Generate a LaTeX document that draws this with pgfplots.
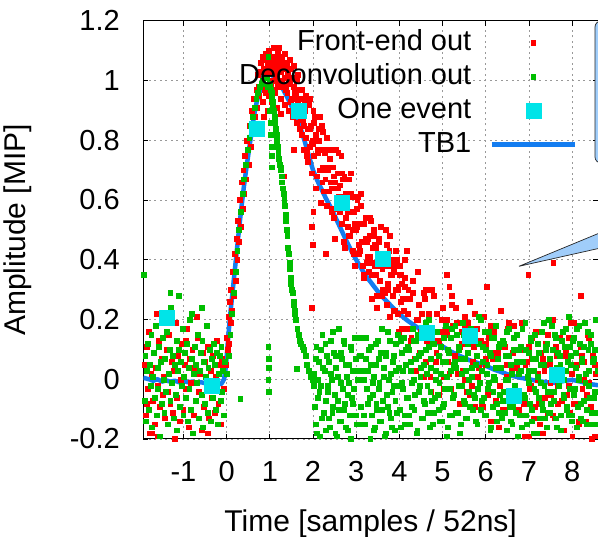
\documentclass[border=0pt]{standalone}
\usepackage{pgfplots}
\pgfplotsset{compat=1.18}
\usepackage{fontspec}
\setmainfont{Liberation Sans}
\definecolor{fered}{RGB}{255,0,0}
\definecolor{decgreen}{RGB}{0,190,0}
\definecolor{evcyan}{RGB}{0,228,232}
\definecolor{tbblue}{RGB}{20,125,240}
\definecolor{callout}{RGB}{160,205,250}
\pgfplotsset{
  layers/mylayers/.define layer set={
    axis background,axis grid,legendbg,axis ticks,axis lines,axis tick labels,axis descriptions,pre main,main,axis foreground
  }{},
  markleg/.style={legend image code/.code={\path[draw=none,fill=none] (0bp,-5bp) rectangle (83bp,5bp); \draw[##1] plot coordinates {(41.5bp,0bp)};}},
  lineleg/.style={legend image code/.code={\draw[##1] (0bp,0bp) -- (83bp,0bp);}},
}
\begin{document}
\begin{tikzpicture}
\begin{axis}[
  set layers=mylayers,
  name=ax,
  width=454.7bp, height=418.3bp, scale only axis,
  xmin=-1.93, xmax=8.6, ymin=-0.2, ymax=1.2,
  xtick={-1,0,1,2,3,4,5,6,7,8},
  ytick={-0.2,0,0.2,0.4,0.6,0.8,1,1.2},
  /pgf/number format/assume math mode=true,
  tick label style={font=\fontsize{29bp}{34bp}\selectfont},
  xticklabel style={anchor=base, yshift=-42.7bp},
  yticklabel style={anchor=east, inner sep=0pt, xshift=-23.3bp},
  major tick length=5bp,
  tick style={black, line width=0.8bp},
  axis line style={black, line width=1bp},
  grid=major,
  grid style={black!40, line width=0.8bp, dash pattern=on 2bp off 3.5bp},
  xlabel={Time [samples / 52ns]},
  ylabel={Amplitude [MIP]},
  every axis x label/.style={at={(axis description cs:0.5,-0.2216)}, anchor=base, font=\fontsize{30bp}{36bp}\selectfont},
  every axis y label/.style={at={(axis description cs:-0.258,0.5)}, anchor=base, rotate=90, font=\fontsize{30bp}{36bp}\selectfont},
  legend plot pos=right,
  legend cell align=right,
  legend style={at={(rel axis cs:1,1)}, anchor=north east, xshift=-21bp, yshift=-9.3bp,
    draw=none, fill=none, inner sep=0pt, row sep=9bp, column sep=18bp,
    font=\fontsize{29bp}{34bp}\selectfont,
    nodes={inner sep=0pt, text height=20bp, text depth=5bp}},
]
\begin{pgfonlayer}{legendbg}
\fill[white] (axis cs:-1.38,0.732) rectangle (axis cs:8.6,1.2);
\end{pgfonlayer}

% Front-end out
\addplot[only marks, mark=square*, mark size=2.45bp, color=fered, mark options={line width=0.1bp}, markleg]
coordinates {
(-1.90,0.05) (-1.88,-0.12) (-1.85,0.11) (-1.83,-0.03) (-1.80,0.16) (-1.78,-0.18) (-1.75,0.02) (-1.72,-0.07) (-1.70,0.09) (-1.67,-0.15)
(-1.64,0.04) (-1.61,-0.02) (-1.58,0.13) (-1.55,-0.09) (-1.52,0.07) (-1.49,-0.05) (-1.46,0.01) (-1.43,-0.13) (-1.40,0.10) (-1.37,-0.04)
(-1.34,0.15) (-1.31,-0.08) (-1.28,0.06) (-1.25,-0.11) (-1.22,0.03) (-1.19,0.19) (-1.16,-0.06) (-1.13,0.08) (-1.10,-0.14) (-1.07,0.00)
(-1.04,0.12) (-1.01,-0.10) (-0.98,0.05) (-0.95,-0.03) (-0.92,0.17) (-0.89,-0.16) (-0.86,0.07) (-0.83,-0.01) (-0.80,0.10) (-0.77,-0.12)
(-0.74,0.04) (-0.71,-0.07) (-0.68,0.14) (-0.65,-0.04) (-0.62,0.02) (-0.59,-0.17) (-0.56,0.09) (-0.53,-0.09) (-0.50,0.06) (-0.47,-0.02)
(-0.44,0.11) (-0.41,-0.13) (-0.38,0.03) (-0.35,-0.06) (-0.32,0.08) (-0.29,-0.11) (-0.26,0.01) (-0.23,0.13) (-0.20,-0.08) (-0.17,0.05)
(-0.14,-0.15) (-0.11,0.07) (-0.08,-0.03) (-1.74,-0.18) (-1.60,-0.19) (-1.20,-0.20) (-0.70,0.21) (-1.62,0.22) (-1.15,-0.17) (-0.45,-0.18)
(-1.86,-0.08) (-1.52,0.19) (-0.96,0.13)
(-0.02,0.05) (0.00,0.14) (0.02,0.10) (0.04,0.21) (0.05,0.12) (0.07,0.26) (0.09,0.19) (0.10,0.30) (0.12,0.23) (0.14,0.36)
(0.16,0.28) (0.18,0.42) (0.20,0.33) (0.22,0.47) (0.24,0.40) (0.26,0.53) (0.28,0.46) (0.30,0.60) (0.32,0.51) (0.34,0.66)
(0.36,0.57) (0.38,0.70) (0.40,0.62) (0.42,0.75) (0.45,0.67) (0.47,0.80) (0.50,0.72) (0.52,0.85) (0.55,0.78) (0.57,0.90)
(0.60,0.83) (0.62,0.94) (0.65,0.88) (0.68,0.97) (0.70,0.91)
(0.72,1.02) (0.75,0.95) (0.78,1.06) (0.80,0.99) (0.82,1.08) (0.84,0.93) (0.86,1.04) (0.88,0.97) (0.90,1.09) (0.92,1.01)
(0.94,1.06) (0.96,0.95) (0.98,1.10) (1.00,1.03) (1.02,0.98) (1.04,1.07) (1.06,1.00) (1.08,1.11) (1.10,1.04) (1.12,0.96)
(1.14,1.08) (1.16,1.02) (1.18,1.09) (1.20,0.99) (1.22,1.05) (1.24,0.94) (1.26,1.03) (1.28,1.08) (1.30,0.98) (1.32,1.04)
(1.34,0.92) (1.36,1.01) (1.38,1.06) (1.40,0.96) (1.42,1.02) (1.44,0.90) (1.46,0.99) (1.48,1.04) (1.50,0.94) (1.52,0.88)
(1.54,0.98) (1.56,1.01) (1.58,0.91) (1.60,0.95) (1.62,0.86) (1.64,0.93) (1.66,0.97) (1.68,0.84) (1.70,0.90) (1.72,0.94)
(1.74,0.82) (0.95,0.90) (1.05,0.93) (1.15,0.91) (1.25,0.89) (1.35,1.09) (1.45,1.07) (0.85,0.88) (1.10,1.11) (1.20,1.11)
(0.74,0.98) (0.79,1.03) (0.83,1.00) (0.87,1.07) (0.91,0.96) (0.97,1.04) (1.01,1.08) (1.07,0.97) (1.11,1.06) (1.17,0.98)
(1.21,1.07) (1.27,1.00) (1.31,1.06) (1.37,0.97) (1.41,1.04) (1.47,0.93) (1.51,1.01) (1.57,0.96) (1.61,1.00) (1.67,0.90)
(1.71,0.87) (1.73,0.97) (1.65,1.02) (1.55,1.05) (1.43,0.99) (1.33,1.01) (1.23,1.03) (1.13,1.01) (1.03,1.05) (0.93,1.03)
(1.54,0.77) (1.31,0.68) (1.97,0.51) (1.98,0.45) (1.97,0.24) (2.30,0.42) (2.50,0.47) (2.00,0.56)
(1.76,0.87) (1.78,0.77) (1.80,0.90) (1.82,0.81) (1.84,0.92) (1.86,0.75) (1.88,0.84) (1.90,0.92) (1.92,0.78) (1.94,0.85)
(1.96,0.69) (1.98,0.80) (2.00,0.90) (2.02,0.75) (2.05,0.82) (2.07,0.68) (2.10,0.77) (2.12,0.84) (2.15,0.70) (2.17,0.77)
(2.20,0.85) (2.22,0.71) (2.25,0.63) (2.27,0.77) (2.30,0.70) (2.32,0.81) (2.35,0.63) (2.37,0.71) (2.40,0.77) (2.42,0.64)
(2.45,0.71) (2.47,0.54) (2.50,0.66) (2.52,0.77) (2.55,0.59) (2.57,0.69) (2.60,0.61) (2.62,0.65) (2.65,0.75) (2.67,0.52)
(2.70,0.61) (2.72,0.68) (2.75,0.54) (2.77,0.62) (2.80,0.56) (2.82,0.67) (2.85,0.48) (2.87,0.56) (2.90,0.61) (2.92,0.50)
(2.95,0.56) (2.97,0.38) (3.00,0.51) (3.02,0.60) (3.05,0.45) (3.07,0.52) (3.10,0.62) (3.12,0.46) (3.15,0.38) (3.17,0.52)
(3.20,0.46) (3.22,0.54) (3.25,0.39) (3.27,0.47) (3.30,0.41) (3.32,0.54) (3.35,0.35) (3.37,0.44) (3.40,0.48) (3.42,0.38)
(3.45,0.44) (3.47,0.28) (3.50,0.39) (3.52,0.47) (3.55,0.33) (3.57,0.41) (3.60,0.37) (3.62,0.42) (3.65,0.29) (3.67,0.38)
(3.70,0.45) (3.72,0.32) (3.75,0.39) (3.77,0.21) (3.80,0.35) (3.82,0.40) (3.85,0.28) (3.87,0.36) (3.90,0.30) (3.92,0.38)
(3.95,0.22) (3.97,0.31) (4.00,0.35) (4.03,0.26) (4.06,0.32) (4.09,0.23) (4.12,0.34) (4.15,0.27) (4.18,0.17) (4.20,0.30)
(1.78,0.85) (1.83,0.95) (1.88,0.73) (1.93,0.84) (1.98,0.79) (2.03,0.88) (2.08,0.68) (2.13,0.80) (2.18,0.59) (2.23,0.83)
(2.28,0.67) (2.33,0.70) (2.38,0.74) (2.43,0.56) (2.48,0.68) (2.53,0.57) (2.58,0.76) (2.63,0.58) (2.68,0.67) (2.73,0.44)
(2.78,0.58) (2.83,0.48) (2.88,0.62) (2.93,0.42) (2.98,0.50) (3.03,0.61) (3.08,0.43) (3.13,0.52) (3.18,0.34) (3.23,0.46)
(3.28,0.36) (3.33,0.53) (3.38,0.39) (3.43,0.45) (3.48,0.24) (3.53,0.46) (3.58,0.28) (3.63,0.38) (3.68,0.50) (3.73,0.30)
(3.78,0.48) (3.83,0.35) (3.88,0.23) (3.93,0.40) (3.98,0.16) (4.03,0.35) (4.08,0.27) (4.13,0.40) (4.18,0.22)
(1.81,0.93) (1.86,0.76) (1.91,0.94) (1.96,0.79) (2.01,0.86) (2.06,0.64) (2.11,0.76) (2.16,0.88) (2.21,0.66) (2.26,0.76)
(2.31,0.58) (2.36,0.77) (2.41,0.66) (2.46,0.57) (2.51,0.77) (2.56,0.64) (2.61,0.56) (2.66,0.69) (2.71,0.46) (2.76,0.62)
(2.81,0.51) (2.86,0.69) (2.91,0.43) (2.96,0.52) (3.01,0.57) (3.06,0.42) (3.11,0.58) (3.16,0.35) (3.21,0.47) (3.26,0.41)
(3.31,0.48) (3.36,0.27) (3.41,0.50) (3.46,0.35) (3.51,0.38) (3.56,0.51) (3.61,0.30) (3.66,0.41) (3.71,0.25) (3.76,0.43)
(3.81,0.38) (3.86,0.23) (3.91,0.43) (3.96,0.30) (4.01,0.38) (4.06,0.17) (4.11,0.31) (4.16,0.43)
(4.23,0.27) (4.27,0.14) (4.31,0.33) (4.35,0.07) (4.39,0.20) (4.43,0.36) (4.47,0.09) (4.51,0.22) (4.55,0.01) (4.59,0.27)
(4.63,0.13) (4.67,0.22) (4.71,0.01) (4.75,0.30) (4.79,0.13) (4.83,0.06) (4.87,0.22) (4.91,-0.05) (4.95,0.16) (4.99,0.24)
(5.03,0.01) (5.07,0.16) (5.11,0.06) (5.15,0.31) (5.19,-0.03) (5.23,0.18) (5.27,0.08) (5.31,0.24) (5.35,0.02) (5.39,0.11)
(5.43,0.16) (5.47,0.03) (5.51,0.21) (5.55,-0.04) (5.59,0.09) (5.63,0.26) (5.67,-0.02) (5.71,0.11) (5.75,-0.09) (5.79,0.17)
(5.83,0.04) (5.87,0.12) (5.91,-0.08) (5.95,0.21) (5.99,0.05) (6.03,-0.03) (6.07,0.14) (6.11,-0.14) (6.15,0.07) (6.19,0.16)
(6.23,-0.07) (6.27,0.09) (6.31,-0.02) (6.35,0.23) (6.39,-0.10) (6.43,0.11) (6.47,0.01) (6.51,0.17) (6.55,-0.05) (6.59,0.04)
(6.63,0.09) (6.67,-0.04) (6.71,0.15) (6.75,-0.10) (6.79,0.03) (6.83,0.19) (6.87,-0.08) (6.91,0.05) (6.95,-0.15) (6.99,0.11)
(7.03,-0.02) (7.07,0.07) (7.11,-0.13) (7.15,0.16) (7.19,0.00) (7.23,-0.08) (7.27,0.09) (7.31,-0.18) (7.35,0.03) (7.39,0.12)
(7.43,-0.11) (7.47,0.05) (7.51,-0.05) (7.55,0.20) (7.59,-0.13) (7.63,0.08) (7.67,-0.02) (7.71,0.14) (7.75,-0.07) (7.79,0.03)
(7.83,0.08) (7.87,-0.05) (7.91,0.14) (7.95,-0.11) (7.99,0.02) (8.03,0.19) (8.07,-0.08) (8.11,0.05) (8.15,-0.15) (8.19,0.11)
(8.23,-0.03) (8.27,0.06) (8.31,-0.14) (8.35,0.15) (8.39,-0.01) (8.43,-0.09) (8.47,0.08) (8.51,-0.19) (8.55,0.02)
(4.45,0.25) (4.80,0.28) (5.10,0.20) (5.50,0.18) (4.60,0.30) (5.20,0.25) (6.00,0.12) (6.50,0.08) (7.00,-0.19) (7.80,-0.17)
(8.00,-0.19) (7.56,0.39) (6.98,0.35) (5.09,0.35) (6.02,0.31) (8.20,0.28)
(4.25,0.13) (4.31,0.29) (4.37,0.03) (4.43,0.20) (4.49,0.16) (4.55,0.29) (4.61,0.06) (4.67,0.22) (4.73,-0.04) (4.79,0.28)
(4.85,0.09) (4.91,0.13) (4.97,0.20) (5.03,-0.03) (5.09,0.15) (5.15,0.02) (5.21,0.28) (5.27,0.07) (5.33,0.19) (5.39,-0.08)
(5.45,0.12) (5.51,0.00) (5.57,0.19) (5.63,-0.05) (5.69,0.06) (5.75,0.22) (5.81,0.01) (5.87,0.13) (5.93,-0.09) (5.99,0.07)
(6.05,-0.05) (6.11,0.18) (6.17,0.00) (6.23,0.09) (6.29,-0.16) (6.35,0.12) (6.41,-0.10) (6.47,0.05) (6.53,0.19) (6.59,-0.05)
(6.65,0.18) (6.71,0.04) (6.77,-0.11) (6.83,0.10) (6.89,-0.19) (6.95,0.06) (7.01,-0.03) (7.07,0.14) (7.13,-0.09) (7.19,0.02)
(7.25,-0.15) (7.31,0.07) (7.37,-0.06) (7.43,0.15) (7.49,-0.01) (7.55,-0.12) (7.61,0.11) (7.67,-0.08) (7.73,0.03) (7.79,-0.17)
(7.85,0.10) (7.91,-0.02) (7.97,0.19) (8.03,-0.08) (8.09,0.05) (8.15,-0.14) (8.21,0.08) (8.27,0.00) (8.33,-0.05) (8.39,0.14)
(8.45,-0.20) (8.51,0.05)
};
\addlegendentry{Front-end out}

% Deconvolution out
\addplot[only marks, mark=square*, mark size=2.45bp, color=decgreen, mark options={line width=0.1bp}, markleg]
coordinates {
(-1.92,0.35) (-1.91,-0.07) (-1.89,0.08) (-1.87,-0.14) (-1.85,0.03) (-1.83,0.12) (-1.81,-0.10) (-1.79,0.05) (-1.77,-0.02) (-1.75,0.15)
(-1.73,-0.16) (-1.71,0.01) (-1.69,0.09) (-1.67,-0.06) (-1.65,0.18) (-1.63,-0.12) (-1.61,0.04) (-1.59,-0.03) (-1.57,0.11) (-1.55,-0.19)
(-1.53,0.06) (-1.51,-0.08) (-1.49,0.14) (-1.47,0.00) (-1.45,-0.11) (-1.43,0.07) (-1.41,-0.04) (-1.39,0.16) (-1.37,-0.15) (-1.35,0.02)
(-1.33,0.10) (-1.31,-0.07) (-1.29,0.24) (-1.27,-0.01) (-1.25,0.08) (-1.23,-0.13) (-1.21,0.05) (-1.19,-0.05) (-1.17,0.13) (-1.15,-0.17)
(-1.13,0.03) (-1.11,0.10) (-1.09,-0.09) (-1.07,0.06) (-1.05,-0.02) (-1.03,0.17) (-1.01,-0.12) (-0.99,0.01) (-0.97,0.09) (-0.95,-0.06)
(-0.93,0.12) (-0.91,-0.14) (-0.89,0.04) (-0.87,-0.03) (-0.85,0.20) (-0.83,-0.10) (-0.81,0.07) (-0.79,-0.18) (-0.77,0.02) (-0.75,0.11)
(-0.73,-0.07) (-0.71,0.05) (-0.69,-0.01) (-0.67,0.15) (-0.65,-0.13) (-0.63,0.03) (-0.61,0.09) (-0.59,-0.05) (-0.57,0.13) (-0.55,-0.16)
(-0.53,0.06) (-0.51,-0.08) (-0.49,0.01) (-0.47,0.18) (-0.45,-0.11) (-0.43,0.04) (-0.41,-0.03) (-0.39,0.10) (-0.37,-0.14) (-0.35,0.07)
(-0.33,-0.06) (-0.31,0.12) (-0.29,-0.02) (-0.27,0.05) (-0.25,-0.10) (-0.23,0.09) (-0.21,-0.15) (-0.19,0.02) (-0.17,0.08) (-0.15,-0.07)
(-0.13,0.11) (-0.11,-0.04) (-0.09,0.03) (-0.07,-0.12) (-0.05,0.06)
(-1.31,0.29) (-1.12,0.28) (-0.81,0.22) (-0.58,0.24) (0.31,-0.065) (0.96,0.11) (0.96,0.00) (1.62,0.035)
(0.00,0.02) (0.04,0.08) (0.08,0.15) (0.12,0.22) (0.16,0.29) (0.20,0.36) (0.24,0.43) (0.28,0.50) (0.32,0.56) (0.36,0.62)
(0.40,0.67) (0.44,0.72) (0.48,0.77) (0.52,0.81) (0.56,0.85) (0.60,0.88) (0.64,0.91) (0.68,0.94) (0.72,0.96) (0.76,0.98)
(0.80,0.99) (0.84,1.00) (0.88,1.01) (0.92,1.01) (0.96,1.08) (0.95,0.98)
(1.00,0.99) (1.03,0.96) (1.06,0.93) (1.09,0.90) (1.12,0.86) (1.15,0.82) (1.18,0.78) (1.21,0.74) (1.24,0.71) (1.27,0.68)
(1.30,0.64) (1.33,0.60) (1.36,0.55) (1.39,0.50) (1.42,0.44) (1.45,0.39) (1.48,0.34) (1.51,0.30) (1.54,0.26) (1.57,0.23)
(1.60,0.20) (1.63,0.17) (1.66,0.15) (1.69,0.13) (1.72,0.12) (1.75,0.11) (1.78,0.10) (1.82,0.08) (1.86,0.05) (1.90,0.03)
(1.94,0.01) (1.98,0.00) (2.02,-0.02)
(1.01,0.97) (1.04,0.94) (1.07,0.91) (1.10,0.88) (1.13,0.84) (1.16,0.80) (1.19,0.76) (1.22,0.72) (1.25,0.70) (1.28,0.66)
(1.31,0.62) (1.34,0.58) (1.37,0.53) (1.40,0.48) (1.43,0.42) (1.46,0.37) (1.49,0.32) (1.52,0.29) (1.55,0.25) (1.58,0.22)
(1.00,0.90) (1.01,0.86) (1.02,0.82) (1.03,0.78) (1.04,0.75) (1.05,0.71) (0.97,0.07) (0.97,0.04) (0.97,-0.04)
(2.02,0.02) (2.05,-0.15) (2.07,0.11) (2.10,-0.06) (2.13,0.06) (2.16,-0.19) (2.18,-0.02) (2.21,0.15) (2.24,-0.11) (2.26,0.03)
(2.29,-0.17) (2.32,0.08) (2.34,-0.04) (2.37,-0.13) (2.40,0.13) (2.43,0.00) (2.45,-0.09) (2.48,0.09) (2.51,-0.18) (2.53,0.04)
(2.56,-0.07) (2.59,0.17) (2.61,-0.14) (2.64,-0.01) (2.67,0.07) (2.70,-0.10) (2.72,0.12) (2.75,-0.16) (2.78,0.01) (2.80,-0.05)
(2.83,0.05) (2.86,-0.20) (2.88,0.10) (2.91,-0.08) (2.94,-0.03) (2.97,0.14) (2.99,-0.12) (3.02,0.03) (3.05,-0.15) (3.07,0.08)
(3.10,0.08) (3.13,-0.15) (3.15,0.03) (3.18,-0.12) (3.21,0.14) (3.24,-0.03) (3.26,-0.08) (3.29,0.10) (3.32,-0.20) (3.34,0.05)
(3.37,-0.05) (3.40,0.01) (3.42,-0.16) (3.45,0.12) (3.48,-0.10) (3.51,0.07) (3.53,-0.01) (3.56,-0.14) (3.59,0.17) (3.61,-0.07)
(3.64,0.04) (3.67,-0.18) (3.69,0.09) (3.72,-0.09) (3.75,0.00) (3.78,0.13) (3.80,-0.13) (3.83,-0.04) (3.86,0.08) (3.88,-0.17)
(3.91,0.03) (3.94,-0.11) (3.96,0.15) (3.99,-0.02) (4.02,-0.16) (4.05,0.09) (4.07,-0.03) (4.10,0.14) (4.13,-0.12) (4.15,0.05)
(4.18,-0.06) (4.21,0.10) (4.23,-0.15) (4.26,0.03) (4.29,-0.01) (4.32,0.13) (4.34,-0.10) (4.37,0.07) (4.40,-0.18) (4.42,0.15)
(4.45,-0.04) (4.48,0.01) (4.50,0.09) (4.53,-0.13) (4.56,0.05) (4.59,-0.08) (4.61,0.19) (4.64,-0.02) (4.67,0.11) (4.69,-0.16)
(4.72,0.04) (4.75,-0.07) (4.77,0.12) (4.80,-0.11) (4.83,0.00) (4.85,0.16) (4.88,-0.05) (4.91,0.08) (4.94,-0.14) (4.96,0.02)
(4.99,-0.09) (5.02,0.14) (5.04,-0.03) (5.07,0.06) (5.10,-0.19) (5.12,0.10) (5.15,-0.12) (5.18,0.03) (5.21,0.17) (5.23,-0.06)
(5.26,-0.05) (5.29,0.18) (5.31,0.04) (5.34,-0.11) (5.37,0.11) (5.40,-0.18) (5.42,0.07) (5.45,-0.02) (5.48,0.15) (5.50,-0.08)
(5.53,0.03) (5.56,-0.13) (5.58,0.09) (5.61,-0.04) (5.64,0.17) (5.67,0.01) (5.69,-0.10) (5.72,0.13) (5.75,-0.06) (5.77,0.05)
(5.80,-0.15) (5.83,0.12) (5.85,-0.01) (5.88,0.20) (5.91,-0.07) (5.93,0.06) (5.96,-0.12) (5.99,0.10) (6.02,0.02) (6.04,-0.03)
(6.07,0.16) (6.10,-0.17) (6.12,0.08) (6.15,-0.09) (6.18,0.14) (6.20,0.00) (6.23,0.04) (6.26,-0.14) (6.29,0.11) (6.31,-0.05)
(6.34,0.04) (6.37,-0.13) (6.39,0.13) (6.42,-0.04) (6.45,0.08) (6.48,-0.17) (6.50,0.00) (6.53,0.17) (6.56,-0.09) (6.58,0.05)
(6.61,-0.15) (6.64,0.10) (6.66,-0.02) (6.69,-0.11) (6.72,0.15) (6.75,0.02) (6.77,-0.07) (6.80,0.11) (6.83,-0.16) (6.85,0.06)
(6.88,-0.05) (6.91,0.19) (6.93,-0.12) (6.96,0.01) (6.99,0.09) (7.02,-0.08) (7.04,0.14) (7.07,-0.14) (7.10,0.03) (7.12,-0.03)
(7.15,0.07) (7.18,-0.18) (7.20,0.12) (7.23,-0.06) (7.26,-0.01) (7.29,0.16) (7.31,-0.10) (7.34,0.05) (7.37,-0.13) (7.39,0.10)
(7.42,0.12) (7.45,-0.11) (7.47,0.07) (7.50,-0.08) (7.53,0.18) (7.55,0.01) (7.58,-0.04) (7.61,0.14) (7.64,-0.16) (7.66,0.09)
(7.69,-0.01) (7.72,0.05) (7.74,-0.12) (7.77,0.16) (7.80,-0.06) (7.82,0.11) (7.85,0.03) (7.88,-0.10) (7.91,0.21) (7.93,-0.03)
(7.96,0.08) (7.99,-0.14) (8.01,0.13) (8.04,-0.05) (8.07,0.04) (8.10,0.17) (8.12,-0.09) (8.15,0.00) (8.18,0.12) (8.20,-0.13)
(8.23,0.07) (8.26,-0.07) (8.28,0.19) (8.31,0.02) (8.34,-0.15) (8.37,0.10) (8.39,-0.02) (8.42,0.15) (8.45,-0.11) (8.47,0.06)
(8.50,-0.06) (8.53,0.10) (8.55,-0.15) (8.58,0.03)
(2.03,-0.09) (2.06,0.07) (2.09,-0.18) (2.11,0.00) (2.14,-0.04) (2.17,0.10) (2.19,-0.13) (2.22,0.04) (2.25,-0.21) (2.28,0.12)
(2.30,-0.07) (2.33,-0.02) (2.36,0.06) (2.38,-0.16) (2.41,0.02) (2.44,-0.11) (2.46,0.16) (2.49,-0.05) (2.52,0.08) (2.55,-0.19)
(2.57,0.01) (2.60,-0.10) (2.63,0.09) (2.65,-0.14) (2.68,-0.03) (2.71,0.13) (2.73,-0.08) (2.76,0.05) (2.79,-0.17) (2.82,-0.01)
(2.84,-0.12) (2.87,0.11) (2.90,-0.06) (2.92,0.03) (2.95,-0.22) (2.98,0.07) (3.00,-0.15) (3.03,0.00) (3.06,0.14) (3.09,-0.09)
(3.11,-0.09) (3.14,0.14) (3.17,0.00) (3.19,-0.15) (3.22,0.07) (3.25,-0.22) (3.27,0.03) (3.30,-0.06) (3.33,0.11) (3.36,-0.12)
(3.38,-0.01) (3.41,-0.17) (3.44,0.05) (3.46,-0.08) (3.49,0.13) (3.52,-0.03) (3.54,-0.14) (3.57,0.09) (3.60,-0.10) (3.63,0.01)
(3.65,-0.19) (3.68,0.08) (3.71,-0.05) (3.73,0.16) (3.76,-0.11) (3.79,0.02) (3.81,-0.16) (3.84,0.06) (3.87,-0.02) (3.90,-0.07)
(3.92,0.12) (3.95,-0.21) (3.98,0.04) (4.00,-0.10) (4.03,0.13) (4.06,-0.01) (4.08,0.03) (4.11,-0.15) (4.14,0.10) (4.17,-0.06)
(4.19,0.11) (4.22,-0.12) (4.25,0.06) (4.28,-0.09) (4.30,0.17) (4.33,0.00) (4.36,-0.05) (4.38,0.13) (4.41,-0.17) (4.44,0.08)
(4.46,-0.02) (4.49,0.04) (4.52,-0.13) (4.54,0.15) (4.57,-0.07) (4.60,0.10) (4.63,0.02) (4.65,-0.11) (4.68,0.20) (4.71,-0.04)
(4.73,0.07) (4.76,-0.15) (4.79,0.12) (4.81,-0.06) (4.84,0.03) (4.87,0.16) (4.90,-0.10) (4.92,-0.01) (4.95,0.11) (4.98,-0.14)
(5.00,0.06) (5.03,-0.08) (5.06,0.18) (5.09,0.01) (5.11,-0.16) (5.14,0.09) (5.17,-0.03) (5.19,0.14) (5.22,-0.12) (5.25,0.05)
(5.27,0.06) (5.30,-0.11) (5.33,0.15) (5.36,-0.02) (5.38,0.10) (5.41,-0.15) (5.44,0.02) (5.46,0.19) (5.49,-0.07) (5.52,0.07)
(5.54,-0.13) (5.57,0.12) (5.60,0.00) (5.63,-0.09) (5.65,0.17) (5.68,0.04) (5.71,-0.05) (5.73,0.13) (5.76,-0.14) (5.79,0.08)
(5.81,-0.03) (5.84,0.21) (5.87,-0.10) (5.90,0.03) (5.92,0.11) (5.95,-0.06) (5.98,0.16) (6.00,-0.12) (6.03,0.05) (6.06,-0.01)
(6.08,0.09) (6.11,-0.16) (6.14,0.14) (6.17,-0.04) (6.19,0.01) (6.22,0.18) (6.25,-0.08) (6.27,0.07) (6.30,-0.11) (6.33,0.12)
(6.35,0.04) (6.38,-0.07) (6.41,0.12) (6.44,-0.11) (6.46,0.00) (6.49,0.16) (6.52,-0.05) (6.54,0.08) (6.57,-0.14) (6.60,0.02)
(6.62,-0.09) (6.65,0.14) (6.68,-0.03) (6.71,0.06) (6.73,-0.19) (6.76,0.10) (6.79,-0.12) (6.81,0.03) (6.84,0.17) (6.87,-0.06)
(6.89,-0.06) (6.92,0.10) (6.95,-0.15) (6.98,0.03) (7.00,-0.01) (7.03,0.13) (7.06,-0.10) (7.08,0.07) (7.11,-0.18) (7.14,0.15)
(7.16,-0.04) (7.19,0.01) (7.22,0.09) (7.25,-0.13) (7.27,0.05) (7.30,-0.08) (7.33,0.19) (7.35,-0.02) (7.38,0.11) (7.41,-0.16)
(7.43,-0.04) (7.46,0.20) (7.49,-0.11) (7.52,0.02) (7.54,0.10) (7.57,-0.07) (7.60,0.15) (7.62,-0.13) (7.65,0.04) (7.68,-0.02)
(7.70,0.08) (7.73,-0.17) (7.76,0.13) (7.79,-0.05) (7.81,0.00) (7.84,0.17) (7.87,-0.09) (7.89,0.06) (7.92,-0.12) (7.95,0.11)
(7.97,0.05) (8.00,-0.12) (8.03,0.14) (8.06,-0.03) (8.08,0.09) (8.11,-0.16) (8.14,0.01) (8.16,0.18) (8.19,-0.08) (8.22,0.06)
(8.24,-0.14) (8.27,0.11) (8.30,-0.01) (8.33,-0.10) (8.35,0.16) (8.38,0.03) (8.41,-0.06) (8.43,0.12) (8.46,-0.15) (8.49,0.07)
(8.51,-0.04) (8.54,0.20) (8.57,-0.11)
};
\addlegendentry{Deconvolution out}

% One event
\addplot[only marks, mark=square*, mark size=7.5bp, color=evcyan, mark options={line width=0.1bp}, markleg]
coordinates {
(-1.39,0.207) (-0.35,-0.02) (0.69,0.838) (1.66,0.90) (2.66,0.592) (3.62,0.403) (4.63,0.157) (5.63,0.146) (6.65,-0.055) (7.65,0.015) (8.65,0.107)
};
\addlegendentry{One event}

% TB1
\addplot[color=tbblue, line width=4.5bp, line join=round, no marks, lineleg]
coordinates {
(-1.93,0.005) (-1.8,0.0) (-1.7,-0.005) (-1.6,0.0) (-1.5,-0.008) (-1.4,-0.004) (-1.3,-0.008) (-1.2,-0.005) (-1.1,-0.01) (-1.0,-0.006)
(-0.9,-0.01) (-0.8,-0.008) (-0.7,-0.012) (-0.6,-0.01) (-0.5,-0.013) (-0.4,-0.012) (-0.3,-0.016) (-0.2,-0.018) (-0.12,-0.015) (-0.06,0.0)
(-0.02,0.04) (0.02,0.11) (0.06,0.18) (0.1,0.24) (0.15,0.31) (0.2,0.38) (0.25,0.45) (0.3,0.52) (0.35,0.585) (0.4,0.645)
(0.45,0.70) (0.5,0.75) (0.55,0.80) (0.6,0.85) (0.65,0.895) (0.7,0.93) (0.75,0.955) (0.8,0.98) (0.85,0.998) (0.9,1.01)
(0.95,1.018) (1.0,1.02) (1.05,1.018) (1.1,1.012) (1.2,0.995) (1.3,0.972) (1.4,0.945) (1.5,0.915) (1.6,0.88) (1.7,0.845)
(1.8,0.80) (1.9,0.75) (2.0,0.70) (2.1,0.665) (2.2,0.635) (2.3,0.605) (2.4,0.578) (2.5,0.548) (2.6,0.517) (2.7,0.486)
(2.8,0.455) (2.9,0.426) (3.0,0.40) (3.1,0.375) (3.2,0.352) (3.3,0.332) (3.4,0.313) (3.5,0.294) (3.6,0.277) (3.7,0.262)
(3.8,0.247) (3.9,0.232) (4.0,0.218) (4.2,0.195) (4.4,0.175) (4.6,0.155) (4.8,0.132) (5.0,0.11) (5.2,0.092) (5.4,0.078)
(5.6,0.065) (5.8,0.055) (6.0,0.045) (6.2,0.032) (6.4,0.022) (6.6,0.012) (6.8,0.005) (7.0,0.0) (7.2,-0.006) (7.4,-0.01)
(7.6,-0.012) (7.8,-0.006) (8.0,-0.002) (8.2,-0.008) (8.4,-0.016) (8.6,-0.02)
};
\addlegendentry{TB1}

\coordinate (tip) at (axis cs:6.77,0.378);
\end{axis}
% callout balloon (cut off at the right edge)
\filldraw[fill=callout, draw=black!85, line width=0.7bp]
  (tip) -- ([shift={(150bp,62bp)}]tip) -- ([shift={(150bp,33.6bp)}]tip) -- cycle;
\filldraw[fill=callout, draw=black!85, line width=0.7bp, rounded corners=6bp]
  ([shift={(-3bp,-142.3bp)}]ax.north east) rectangle ([shift={(150bp,-0.3bp)}]ax.north east);
\pgfresetboundingbox
\path[use as bounding box] ([shift={(-143.3bp,-98bp)}]ax.south west) rectangle ([shift={(0bp,20.7bp)}]ax.north east);
\end{tikzpicture}
\end{document}
